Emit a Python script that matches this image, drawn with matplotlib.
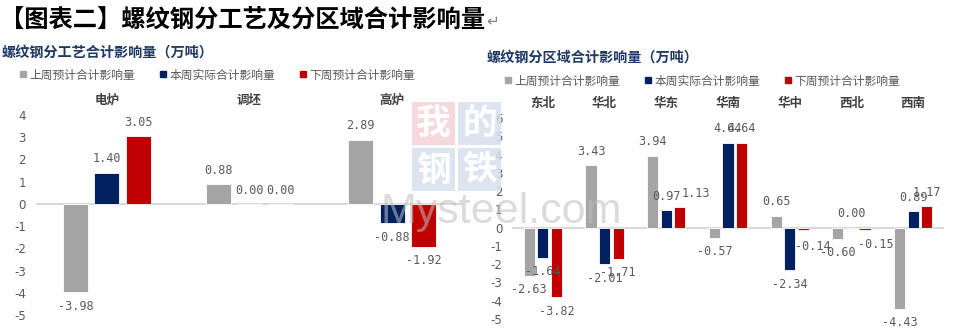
import numpy as np
import matplotlib.pyplot as plt
from matplotlib.lines import Line2D
from matplotlib.patches import Rectangle

plt.rcParams['font.family'] = ['Noto Sans CJK SC', 'DejaVu Sans']

series = ['上周预计合计影响量', '本周实际合计影响量', '下周预计合计影响量']
colors = ['#A5A5A5', '#002060', '#C00000']

# 分工艺
proc_cats = ['电炉', '调坯', '高炉']
proc_last = [-3.98, 0.88, 2.89]
proc_now = [1.40, 0.00, -0.88]
proc_next = [3.05, 0.00, -1.92]

# 分区域
reg_cats = ['东北', '华北', '华东', '华南', '华中', '西北', '西南']
reg_last = [-2.63, 3.43, 3.94, -0.57, 0.65, -0.60, -4.43]
reg_now = [-1.64, -2.01, 0.97, 4.64, -2.34, 0.00, 0.89]
reg_next = [-3.82, -1.71, 1.13, 4.64, -0.14, -0.15, 1.17]

W, H = 964, 333
fig = plt.figure(figsize=(W / 100, H / 100), dpi=100)


def draw(ax, cats, vals, ylo, yhi, width, nudge={}):
    x = np.arange(len(cats))
    for i, (v, c) in enumerate(zip(vals, colors)):
        xs = x + (i - 1) * 0.22
        ax.bar(xs, v, width, color=c, edgecolor='white', linewidth=0.6, zorder=2)
        for j, (xb, val) in enumerate(zip(xs, v)):
            dx, dy = nudge.get((j, i), (0, 0))
            off = 10 if val >= 0 else -10
            arrow = dict(arrowstyle='-', color='#A5A5A5', lw=0.6, shrinkA=6, shrinkB=2) if (j, i) in nudge and dy else None
            ax.annotate(f'{val:.2f}', (xb, val), xytext=(dx, off + dy), textcoords='offset points',
                        ha='center', va='center', fontsize=8.5, color='#595959',
                        family='DejaVu Sans Mono', arrowprops=arrow)
    ax.axhline(0, color='#D9D9D9', lw=1.5, zorder=1)
    ax.set_xlim(-0.5, len(cats) - 0.5)
    ax.set_ylim(ylo, yhi)
    ticks = list(range(ylo, yhi + 1))
    ax.set_yticks(ticks)
    ax.set_yticklabels([str(t) for t in ticks])
    ax.set_xticks(x)
    ax.set_xticklabels(cats, fontweight='bold', color='#404040', fontsize=9)
    ax.xaxis.tick_top()
    ax.tick_params(axis='x', length=0, pad=6)
    ax.tick_params(axis='y', length=0, pad=7, labelsize=8.5, labelcolor='#595959',
                   labelfontfamily='DejaVu Sans')
    for s in ax.spines.values():
        s.set_visible(False)
    ax.patch.set_alpha(0)


ax1 = fig.add_axes([35.5 / W, 1 - 315 / H, 428 / W, 200 / H])
draw(ax1, proc_cats, [proc_last, proc_now, proc_next], -5, 4, 0.175)

ax2 = fig.add_axes([512 / W, 1 - 319 / H, 432 / W, 201 / H])
draw(ax2, reg_cats, [reg_last, reg_now, reg_next], -5, 6, 0.18,
     nudge={(2, 2): (11.5, 0), (4, 2): (7, -2), (5, 2): (8, 0)})

# titles
fig.text(0, 1 - 20 / H, '【图表二】螺纹钢分工艺及分区域合计影响量', fontsize=17.5,
         fontweight='bold', va='center', color='black')
fig.text(486 / W, 1 - 21 / H, '↵', fontsize=11, va='center', color='#808080', family='DejaVu Sans')
fig.text(2 / W, 1 - 53 / H, '螺纹钢分工艺合计影响量（万吨）', fontsize=10.2,
         fontweight='bold', va='center', color='#1F3864')
fig.text(487 / W, 1 - 58 / H, '螺纹钢分区域合计影响量（万吨）', fontsize=10.2,
         fontweight='bold', va='center', color='#1F3864')

# legends
handles = [Line2D([], [], marker='s', ls='none', color=c, markersize=4) for c in colors]
for lx, ly in [(18, 75), (503, 81)]:
    fig.legend(handles, series, loc='center left', bbox_to_anchor=(lx / W, 1 - ly / H), ncol=3,
               frameon=False, fontsize=8.5, labelcolor='#595959', handlelength=0.8,
               handletextpad=0.2, columnspacing=1.9, borderpad=0, borderaxespad=0)

# watermark
for txt, x0, y0, fc in [('我', 412, 102, '#F4D3D7'), ('的', 458, 102, '#D6E0EE'),
                        ('钢', 412, 148, '#D6E0EE'), ('铁', 458, 148, '#D6E0EE')]:
    fig.add_artist(Rectangle((x0 / W, 1 - (y0 + 43) / H), 43 / W, 43 / H,
                             transform=fig.transFigure, fc=fc, ec='none', alpha=0.85))
    fig.text((x0 + 21.5) / W, 1 - (y0 + 21.5) / H, txt, color='white', fontsize=25,
             fontweight='bold', ha='center', va='center')
fig.text(380 / W, 1 - 223 / H, 'Mysteel.com', fontsize=31, color='#BFBFBF', alpha=0.55,
         va='baseline', family=['Liberation Sans Narrow', 'Liberation Sans'])

fig.savefig('out.png', dpi=100)
